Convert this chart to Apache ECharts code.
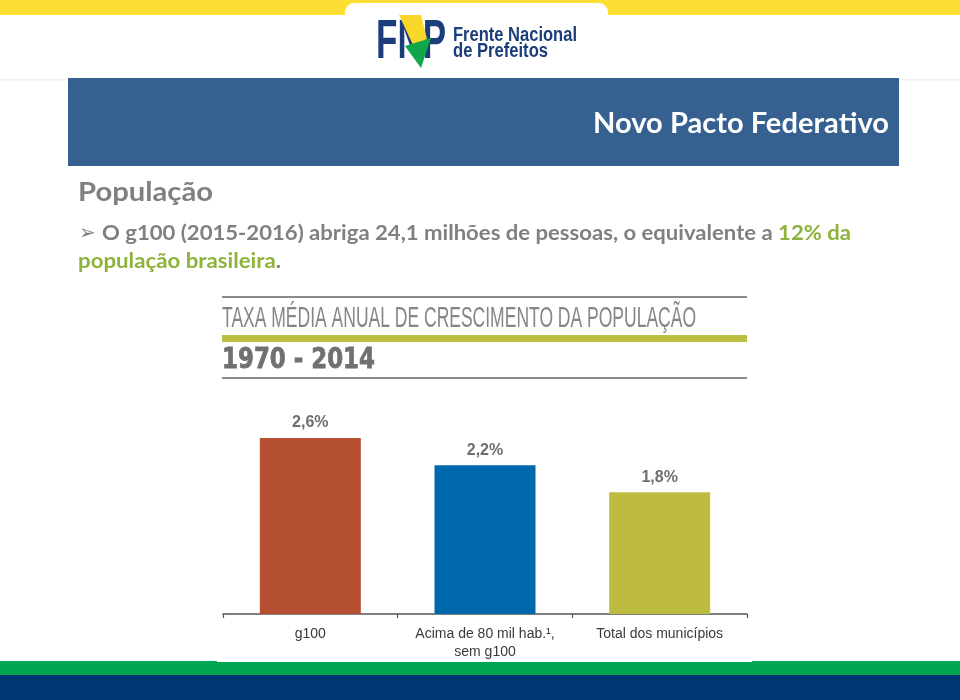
<!DOCTYPE html>
<html><head><meta charset="utf-8">
<script src="https://cdn.jsdelivr.net/npm/echarts/dist/echarts.min.js"></script>
<style>html,body{margin:0;padding:0;background:#fff}#c{width:960px;height:700px}</style>
</head><body><div id="c"></div>
<script>
// ---- data ----
const categories = ['g100', 'Acima de 80 mil hab.\u00b9,\nsem g100', 'Total dos munic\u00edpios'];
const values = [2.6, 2.2, 1.8];
const valueLabels = ['2,6%', '2,2%', '1,8%'];
const barColors = ['#B4502F', '#0069AE', '#BDBB40'];
const chartTitle = 'TAXA M\u00c9DIA ANUAL DE CRESCIMENTO DA POPULA\u00c7\u00c3O';
const period = '1970 - 2014';
const slideTitle = 'Novo Pacto Federativo';
const sectionTitle = 'Popula\u00e7\u00e3o';
const bulletA = 'O g100 (2015-2016) abriga 24,1 milh\u00f5es de pessoas, o equivalente a ';
const bulletB = '12% da';
const line2A = 'popula\u00e7\u00e3o brasileira';
const line2B = '.';

// ---- helpers ----
const mctx = document.createElement('canvas').getContext('2d');
function fit(text, weight, size, family, target) {
  mctx.font = weight + ' ' + size + 'px ' + family;
  return target / mctx.measureText(text).width;
}
const BODY = 'Lato';
const GRAY = '#808080';
const GREEN = '#8DB33A';

const chart = echarts.init(document.getElementById('c'), null, {renderer: 'canvas'});

const graphics = [
  // top yellow band + white tab
  {type: 'rect', z: -10, shape: {x: 0, y: 0, width: 960, height: 15}, style: {fill: '#FDDF33'}},
  {type: 'rect', z: -9, shape: {x: 345, y: 3, width: 263, height: 40, r: 9}, style: {fill: '#ffffff'}},
  // faint line
  {type: 'rect', z: -9, shape: {x: 0, y: 79, width: 960, height: 1.5}, style: {fill: '#eeeeee'}},
  // header rectangle
  {type: 'rect', z: -8, shape: {x: 68, y: 78, width: 831, height: 88}, style: {fill: '#36608F'}},
  {type: 'text', z: 5, x: 889, y: 124, scaleX: fit(slideTitle, 'bold', 28, BODY, 296),
    style: {text: slideTitle, fontSize: 28, fontWeight: 'bold', fontFamily: BODY, fill: '#ffffff', align: 'right', verticalAlign: 'middle'}},
  // logo
  {type: 'text', z: 5, x: 376, y: 43, scaleX: fit('FNP', 'bold', 56, 'Liberation Sans', 70),
    style: {text: 'FNP', fontSize: 56, fontWeight: 'bold', fontFamily: 'Liberation Sans', fill: '#1B3D7A', align: 'left', verticalAlign: 'middle'}},
  {type: 'polygon', z: 6, shape: {points: [[399, 15], [421, 15], [427, 39], [413, 45]]}, style: {fill: '#F9D72A'}},
  {type: 'polygon', z: 6, shape: {points: [[405, 46], [431, 38], [421, 68]]}, style: {fill: '#10A64A'}},
  {type: 'text', z: 5, x: 453, y: 35, scaleX: fit('Frente Nacional', 'bold', 20, 'Liberation Sans', 124),
    style: {text: 'Frente Nacional', fontSize: 20, fontWeight: 'bold', fontFamily: 'Liberation Sans', fill: '#1B3D7A', align: 'left', verticalAlign: 'middle'}},
  {type: 'text', z: 5, x: 453, y: 51, scaleX: fit('de Prefeitos', 'bold', 20, 'Liberation Sans', 95),
    style: {text: 'de Prefeitos', fontSize: 20, fontWeight: 'bold', fontFamily: 'Liberation Sans', fill: '#1B3D7A', align: 'left', verticalAlign: 'middle'}},
  // section title
  {type: 'text', z: 5, x: 78, y: 193, scaleX: fit(sectionTitle, 'bold', 26, BODY, 135),
    style: {text: sectionTitle, fontSize: 26, fontWeight: 'bold', fontFamily: BODY, fill: GRAY, align: 'left', verticalAlign: 'middle'}},
  // bullet
  {type: 'text', z: 5, x: 79, y: 234,
    style: {text: '\u27a2', fontSize: 20, fontFamily: 'DejaVu Sans', fill: GRAY, align: 'left', verticalAlign: 'middle'}},
  {type: 'text', z: 5, x: 102, y: 234, scaleX: fit(bulletA + bulletB, 'bold', 20, BODY, 749),
    style: {text: '{a|' + bulletA + '}{b|' + bulletB + '}', fontSize: 20, fontWeight: 'bold', fontFamily: BODY, align: 'left', verticalAlign: 'middle',
      rich: {a: {fontSize: 20, fontWeight: 'bold', fontFamily: BODY, fill: GRAY}, b: {fontSize: 20, fontWeight: 'bold', fontFamily: BODY, fill: GREEN}}}},
  {type: 'text', z: 5, x: 78, y: 262, scaleX: fit(line2A + line2B, 'bold', 20, BODY, 203),
    style: {text: '{b|' + line2A + '}{a|' + line2B + '}', fontSize: 20, fontWeight: 'bold', fontFamily: BODY, align: 'left', verticalAlign: 'middle',
      rich: {a: {fontSize: 20, fontWeight: 'bold', fontFamily: BODY, fill: GRAY}, b: {fontSize: 20, fontWeight: 'bold', fontFamily: BODY, fill: GREEN}}}},
  // chart header decorations
  {type: 'rect', z: 1, shape: {x: 222, y: 296, width: 525, height: 2}, style: {fill: '#8a8a8a'}},
  {type: 'text', z: 5, x: 222, y: 319, scaleX: fit(chartTitle, 'normal', 29, 'Liberation Sans Narrow, Liberation Sans', 474),
    style: {text: chartTitle, fontSize: 29, fontWeight: 'normal', fontFamily: 'Liberation Sans Narrow, Liberation Sans', fill: '#868686', align: 'left', verticalAlign: 'middle'}},
  {type: 'rect', z: 1, shape: {x: 222, y: 335, width: 525, height: 7}, style: {fill: '#BDBF40'}},
  {type: 'text', z: 5, x: 222, y: 361, scaleX: fit(period, 'bold', 28, 'DejaVu Sans', 153),
    style: {text: period, fontSize: 28, fontWeight: 'bold', fontFamily: 'DejaVu Sans', fill: '#707070', stroke: '#707070', lineWidth: 0.8, align: 'left', verticalAlign: 'middle'}},
  {type: 'rect', z: 1, shape: {x: 222, y: 377, width: 525, height: 2}, style: {fill: '#8a8a8a'}},
  // bottom bands
  {type: 'rect', z: 1, shape: {x: 0, y: 661, width: 960, height: 14}, style: {fill: '#00A551'}},
  {type: 'rect', z: 1, shape: {x: 0, y: 675, width: 960, height: 25}, style: {fill: '#003574'}},
  {type: 'rect', z: 2, shape: {x: 217, y: 660, width: 535, height: 2}, style: {fill: '#ffffff'}}
];

chart.setOption({
  animation: false,
  backgroundColor: '#ffffff',
  grid: {left: 223, right: 213, top: 411, bottom: 86, containLabel: false},
  xAxis: {
    type: 'category',
    data: categories,
    boundaryGap: true,
    axisLine: {lineStyle: {color: '#555555', width: 1.5}},
    axisTick: {show: true, length: 4, lineStyle: {color: '#555555', width: 1.2}},
    axisLabel: {color: '#3a3a3a', fontSize: 14, fontFamily: 'Liberation Sans', lineHeight: 18, margin: 11, interval: 0}
  },
  yAxis: {type: 'value', min: 0, max: 3, show: false, splitLine: {show: false}},
  series: [{
    type: 'bar',
    barWidth: 101,
    data: values.map((v, i) => ({value: v, itemStyle: {color: barColors[i]}})),
    label: {
      show: true, position: 'top', distance: 7,
      formatter: p => valueLabels[p.dataIndex],
      fontSize: 16, fontWeight: 'bold', fontFamily: 'Liberation Sans', color: '#6e6e6e'
    }
  }],
  graphic: graphics
});
</script>
</body></html>
